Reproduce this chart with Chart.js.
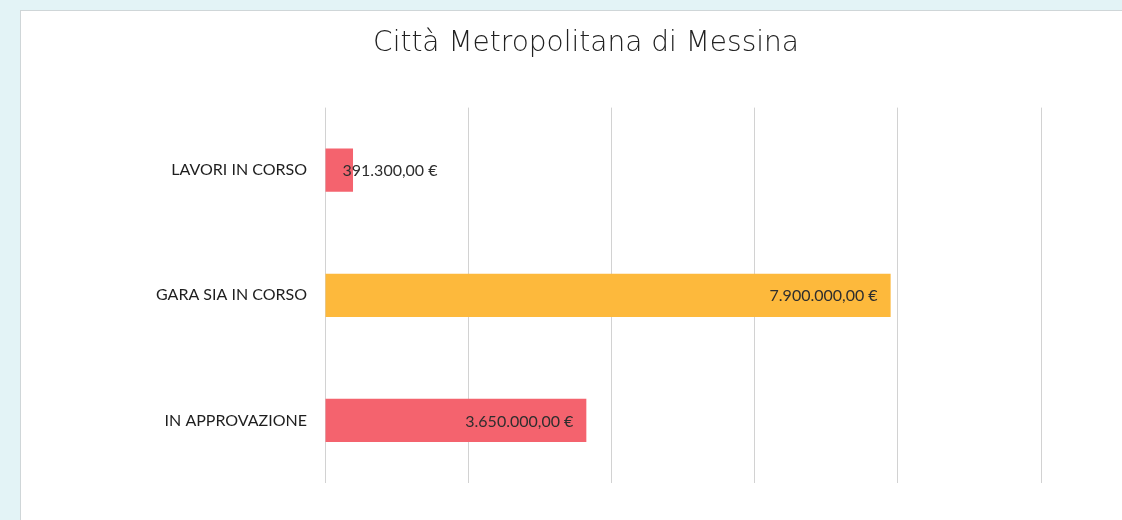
<!DOCTYPE html>
<html lang="it">
<head>
<meta charset="utf-8">
<title>Città Metropolitana di Messina</title>
<script src="https://cdn.jsdelivr.net/npm/chart.js@4"></script>
<style>
  html, body { margin: 0; padding: 0; }
  body {
    width: 1122px; height: 520px; overflow: hidden;
    background: #e3f3f6;
    position: relative;
  }
  .foglio {
    position: absolute; left: 20px; top: 10px; width: 1110px; height: 520px;
    background: #fff;
    border-top: 1px solid #cfd6d8; border-left: 1px solid #cfd6d8;
  }
  #grafico { position: absolute; left: 0; top: 0; }
</style>
</head>
<body>
<div class="foglio"></div>
<canvas id="grafico" width="1122" height="520"></canvas>
<script>
// dati
const categorie = ['LAVORI IN CORSO', 'GARA SIA IN CORSO', 'IN APPROVAZIONE'];
const importi = [391300, 7900000, 3650000];
const coloriBarre = ['#f4636e', '#fdb93c', '#f4636e'];
const asseMin = 0;
const asseMax = 10000000;
const passoAsse = 2000000;

// formato italiano: 7.900.000,00 €
function formatoEuro(v) {
  const [intero, dec] = v.toFixed(2).split('.');
  return intero.replace(/\B(?=(\d{3})+(?!\d))/g, '.') + ',' + dec + ' €';
}

const FONT_ETICHETTE = '16px Lato, "Open Sans", sans-serif';

// etichette dei valori dentro la fine della barra
const etichetteValori = {
  id: 'etichetteValori',
  afterDatasetsDraw(chart) {
    const ctx = chart.ctx;
    const meta = chart.getDatasetMeta(0);
    ctx.save();
    ctx.font = FONT_ETICHETTE;
    ctx.fillStyle = '#2e2e2e';
    ctx.textBaseline = 'middle';
    ctx.textAlign = 'left';
    meta.data.forEach((bar, i) => {
      const testo = formatoEuro(importi[i]);
      const w = ctx.measureText(testo).width;
      let x = bar.x - 13 - w;
      if (x < bar.base + 17) x = bar.base + 17;
      ctx.fillText(testo, x, bar.y + 1);
    });
    ctx.restore();
  }
};

new Chart(document.getElementById('grafico'), {
  type: 'bar',
  data: {
    labels: categorie,
    datasets: [{
      data: importi,
      backgroundColor: coloriBarre,
      borderWidth: 0,
      categoryPercentage: 1,
      barPercentage: 0.345
    }]
  },
  options: {
    indexAxis: 'y',
    responsive: false,
    animation: false,
    layout: { padding: { left: 131, right: 81, top: 0, bottom: 37 } },
    plugins: {
      legend: { display: false },
      tooltip: { enabled: false },
      title: {
        display: true,
        text: 'Città Metropolitana di Messina',
        color: '#222',
        font: { family: '"DejaVu Sans", sans-serif', size: 28, weight: 200, lineHeight: 1.2 },
        padding: { top: 27, bottom: 47 }
      }
    },
    scales: {
      x: {
        min: asseMin,
        max: asseMax,
        ticks: { stepSize: passoAsse, display: false },
        grid: { color: '#d2d2d2', lineWidth: 1, drawTicks: false },
        border: { display: false }
      },
      y: {
        afterFit: (scale) => { scale.width = 325 - 131; },
        ticks: {
          color: '#1e1e1e',
          padding: 18,
          font: { family: 'Lato, "Open Sans", sans-serif', size: 16 }
        },
        grid: { display: false, drawTicks: false },
        border: { display: false }
      }
    }
  },
  plugins: [etichetteValori]
});
</script>
</body>
</html>
